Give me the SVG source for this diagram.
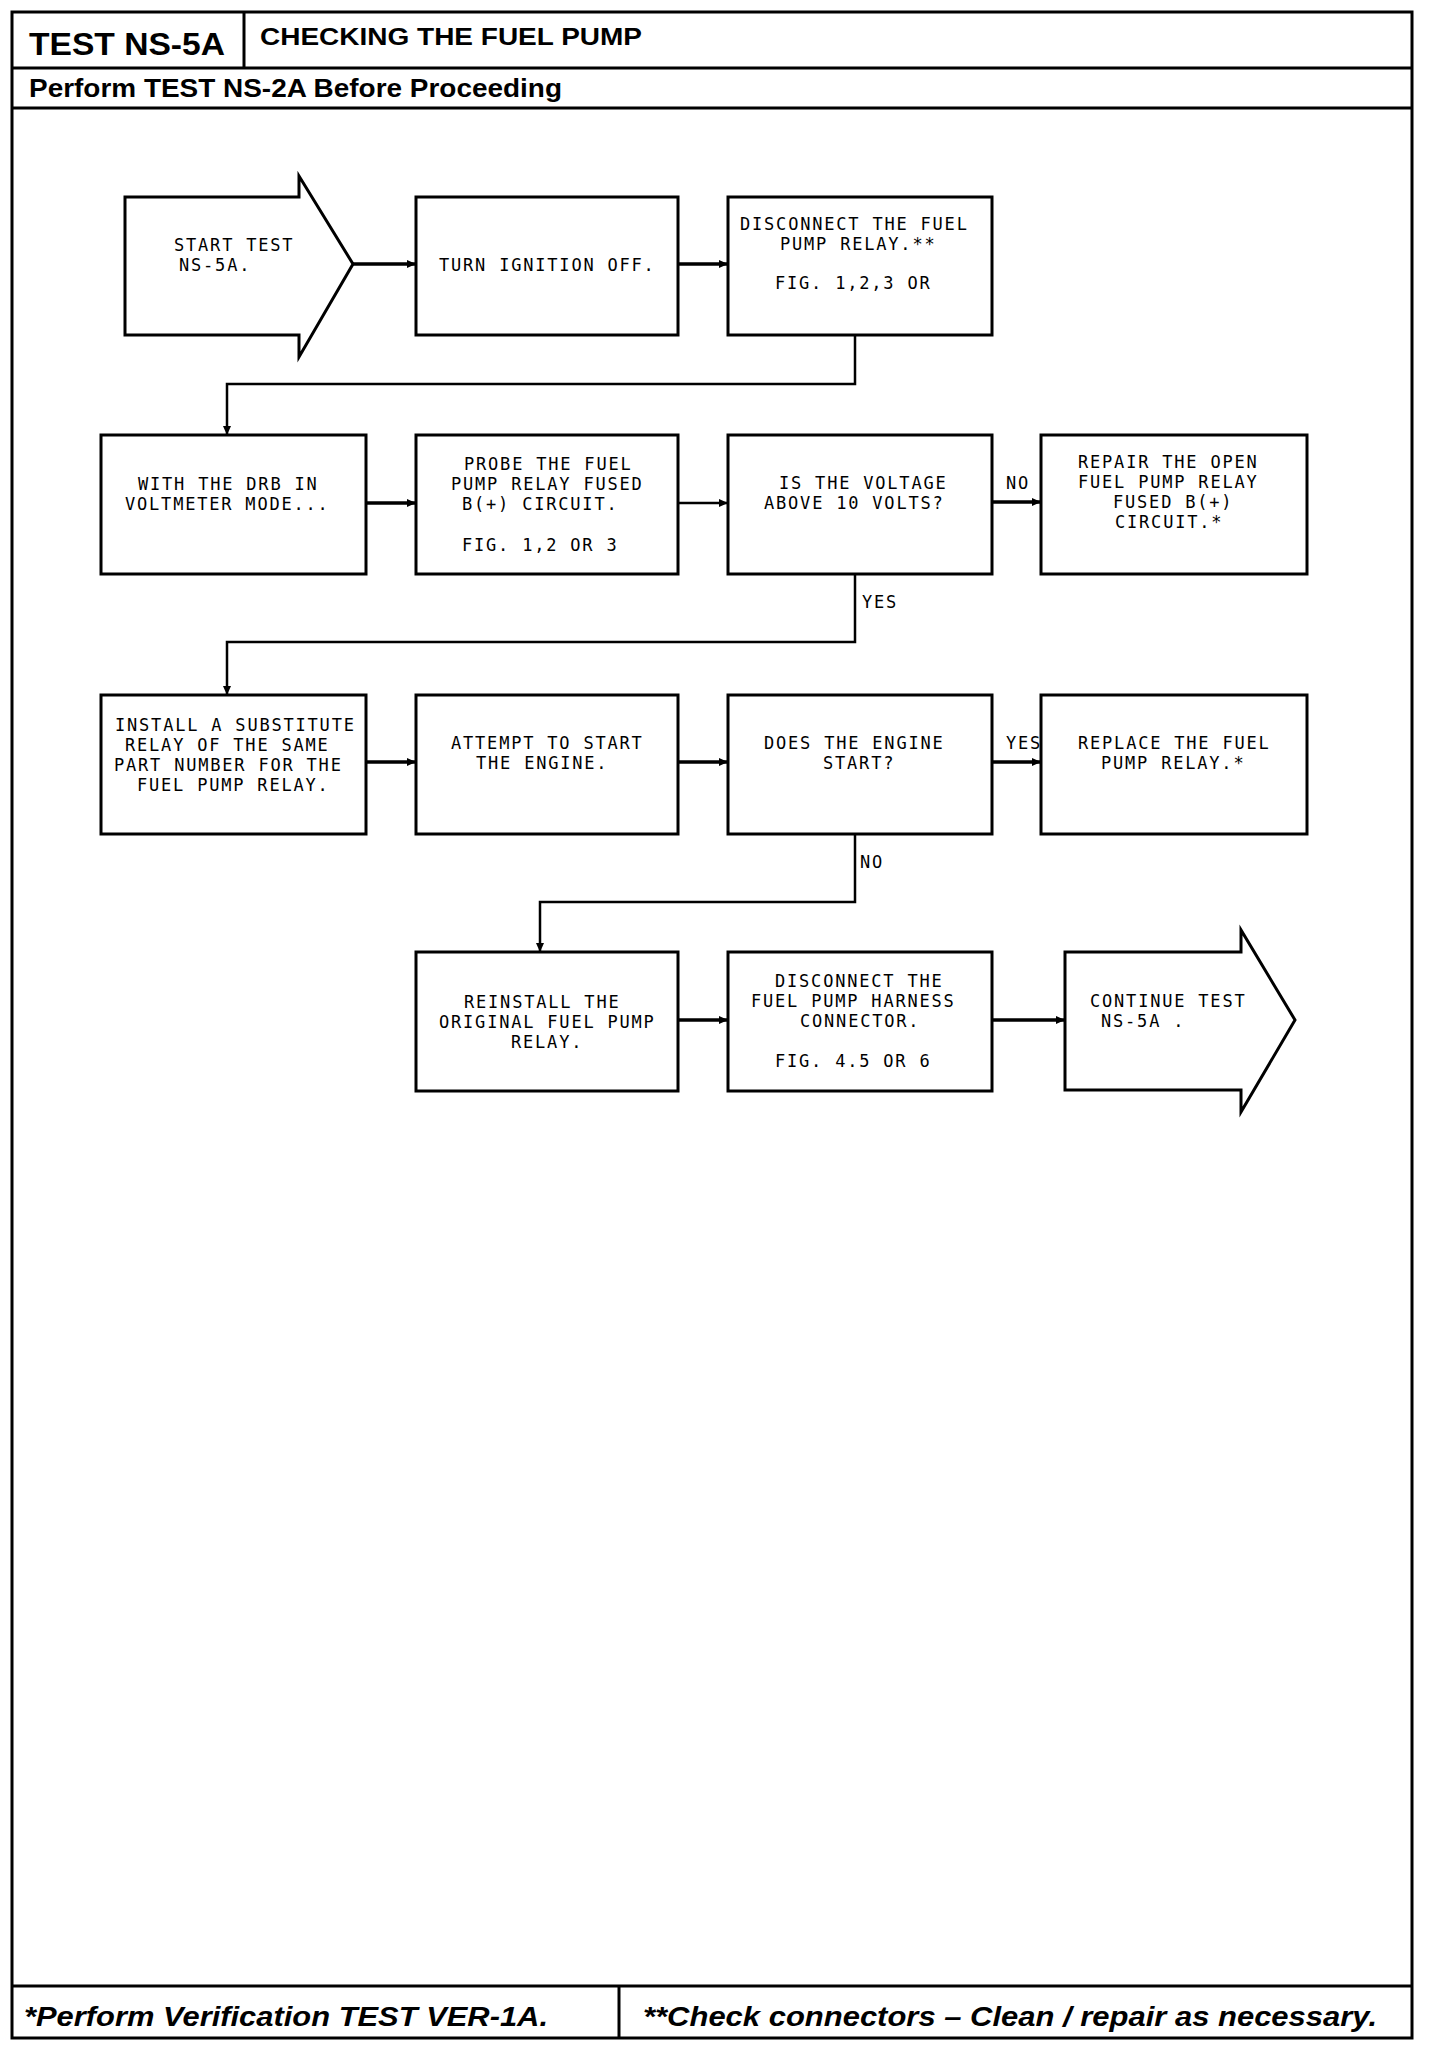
<svg xmlns="http://www.w3.org/2000/svg" width="1440" height="2048" viewBox="0 0 1440 2048">
<style>
.frame{fill:none;stroke:#000;stroke-width:3}
.box{fill:#fff;stroke:#000;stroke-width:3}
.t{font-family:"DejaVu Sans Mono","Liberation Mono",monospace;font-size:17px;letter-spacing:1.8px;fill:#000}
.h{font-family:"Liberation Sans",Arial,sans-serif;font-weight:bold;fill:#000}
.f{font-family:"Liberation Sans",Arial,sans-serif;font-weight:bold;font-style:italic;fill:#000;font-size:27px}
.c{fill:none;stroke:#000;stroke-width:2.5}
.ca{fill:none;stroke:#000;stroke-width:3.5}
</style>
<defs>
<marker id="ah" markerUnits="userSpaceOnUse" markerWidth="10" markerHeight="8" refX="9" refY="4" orient="auto">
<path d="M0,0 L9,4 L0,8 z" fill="#000"/>
</marker>
</defs>
<rect width="1440" height="2048" fill="#fff"/>
<g id="frame">
<rect class="frame" x="12" y="12" width="1400" height="2026"/>
<line class="frame" x1="244" y1="12" x2="244" y2="68"/>
<line class="frame" x1="12" y1="68" x2="1412" y2="68"/>
<line class="frame" x1="12" y1="108" x2="1412" y2="108"/>
<line class="frame" x1="12" y1="1986" x2="1412" y2="1986" stroke-width="4"/>
<line class="frame" x1="619" y1="1986" x2="619" y2="2038"/>
<text class="h" x="29" y="55" font-size="31" textLength="196" lengthAdjust="spacingAndGlyphs">TEST NS-5A</text>
<text class="h" x="260" y="45" font-size="24" textLength="382" lengthAdjust="spacingAndGlyphs">CHECKING THE FUEL PUMP</text>
<text class="h" x="29" y="97" font-size="25" textLength="533" lengthAdjust="spacingAndGlyphs">Perform TEST NS-2A Before Proceeding</text>
<text class="f" x="24" y="2026" textLength="524" lengthAdjust="spacingAndGlyphs">*Perform Verification TEST VER-1A.</text>
<text class="f" x="643" y="2026" textLength="734" lengthAdjust="spacingAndGlyphs">**Check connectors – Clean / repair as necessary.</text>
</g>
<g id="connectors">
<line class="ca" x1="353" y1="264" x2="416" y2="264" marker-end="url(#ah)"/>
<line class="ca" x1="678" y1="264" x2="728" y2="264" marker-end="url(#ah)"/>
<polyline class="c" points="855,335 855,384 227,384 227,435" marker-end="url(#ah)"/>
<line class="ca" x1="366" y1="503" x2="416" y2="503" marker-end="url(#ah)"/>
<line class="c" x1="678" y1="503" x2="728" y2="503" marker-end="url(#ah)"/>
<line class="ca" x1="992" y1="502" x2="1041" y2="502" marker-end="url(#ah)"/>
<polyline class="c" points="855,574 855,642 227,642 227,695" marker-end="url(#ah)"/>
<line class="ca" x1="366" y1="762" x2="416" y2="762" marker-end="url(#ah)"/>
<line class="ca" x1="678" y1="762" x2="728" y2="762" marker-end="url(#ah)"/>
<line class="ca" x1="992" y1="762" x2="1041" y2="762" marker-end="url(#ah)"/>
<polyline class="c" points="855,834 855,902 540,902 540,952" marker-end="url(#ah)"/>
<line class="ca" x1="678" y1="1020" x2="728" y2="1020" marker-end="url(#ah)"/>
<line class="ca" x1="992" y1="1020" x2="1065" y2="1020" marker-end="url(#ah)"/>
<text class="t" x="1006" y="489">NO</text>
<text class="t" x="862" y="608">YES</text>
<text class="t" x="1006" y="749">YES</text>
<text class="t" x="860" y="868">NO</text>
</g>
<g id="start">
<polygon class="box" points="125,197 299,197 299,176 353,264 299,357 299,335 125,335"/>
<text class="t" x="174" y="251">START TEST</text>
<text class="t" x="179" y="271">NS-5A.</text>
</g>
<g id="turn-off">
<rect class="box" x="416" y="197" width="262" height="138"/>
<text class="t" x="439" y="271">TURN IGNITION OFF.</text>
</g>
<g id="disconnect-relay">
<rect class="box" x="728" y="197" width="264" height="138"/>
<text class="t" x="740" y="230">DISCONNECT THE FUEL</text>
<text class="t" x="780" y="250">PUMP RELAY.**</text>
<text class="t" x="775" y="289">FIG. 1,2,3 OR</text>
</g>
<g id="drb">
<rect class="box" x="101" y="435" width="265" height="139"/>
<text class="t" x="138" y="490">WITH THE DRB IN</text>
<text class="t" x="125" y="510">VOLTMETER MODE...</text>
</g>
<g id="probe">
<rect class="box" x="416" y="435" width="262" height="139"/>
<text class="t" x="464" y="470">PROBE THE FUEL</text>
<text class="t" x="451" y="490">PUMP RELAY FUSED</text>
<text class="t" x="462" y="510">B(+) CIRCUIT.</text>
<text class="t" x="462" y="551">FIG. 1,2 OR 3</text>
</g>
<g id="voltage">
<rect class="box" x="728" y="435" width="264" height="139"/>
<text class="t" x="779" y="489">IS THE VOLTAGE</text>
<text class="t" x="764" y="509">ABOVE 10 VOLTS?</text>
</g>
<g id="repair">
<rect class="box" x="1041" y="435" width="266" height="139"/>
<text class="t" x="1078" y="468">REPAIR THE OPEN</text>
<text class="t" x="1078" y="488">FUEL PUMP RELAY</text>
<text class="t" x="1113" y="508">FUSED B(+)</text>
<text class="t" x="1115" y="528">CIRCUIT.*</text>
</g>
<g id="install">
<rect class="box" x="101" y="695" width="265" height="139"/>
<text class="t" x="115" y="731">INSTALL A SUBSTITUTE</text>
<text class="t" x="125" y="751">RELAY OF THE SAME</text>
<text class="t" x="114" y="771">PART NUMBER FOR THE</text>
<text class="t" x="137" y="791">FUEL PUMP RELAY.</text>
</g>
<g id="attempt">
<rect class="box" x="416" y="695" width="262" height="139"/>
<text class="t" x="451" y="749">ATTEMPT TO START</text>
<text class="t" x="476" y="769">THE ENGINE.</text>
</g>
<g id="engine-start">
<rect class="box" x="728" y="695" width="264" height="139"/>
<text class="t" x="764" y="749">DOES THE ENGINE</text>
<text class="t" x="823" y="769">START?</text>
</g>
<g id="replace">
<rect class="box" x="1041" y="695" width="266" height="139"/>
<text class="t" x="1078" y="749">REPLACE THE FUEL</text>
<text class="t" x="1101" y="769">PUMP RELAY.*</text>
</g>
<g id="reinstall">
<rect class="box" x="416" y="952" width="262" height="139"/>
<text class="t" x="464" y="1008">REINSTALL THE</text>
<text class="t" x="439" y="1028">ORIGINAL FUEL PUMP</text>
<text class="t" x="511" y="1048">RELAY.</text>
</g>
<g id="disconnect-harness">
<rect class="box" x="728" y="952" width="264" height="139"/>
<text class="t" x="775" y="987">DISCONNECT THE</text>
<text class="t" x="751" y="1007">FUEL PUMP HARNESS</text>
<text class="t" x="800" y="1027">CONNECTOR.</text>
<text class="t" x="775" y="1067">FIG. 4.5 OR 6</text>
</g>
<g id="continue">
<polygon class="box" points="1065,952 1241,952 1241,930 1295,1020 1241,1112 1241,1090 1065,1090"/>
<text class="t" x="1090" y="1007">CONTINUE TEST</text>
<text class="t" x="1101" y="1027">NS-5A .</text>
</g>
</svg>
